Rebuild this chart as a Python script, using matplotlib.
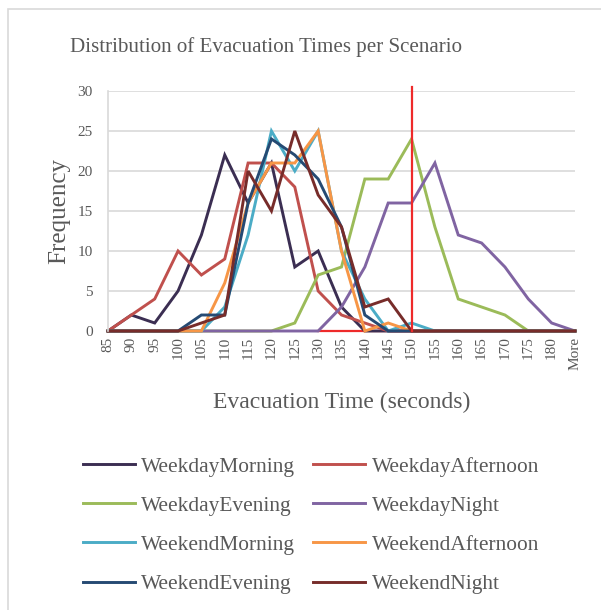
import matplotlib
matplotlib.use('Agg')
import matplotlib.pyplot as plt
from matplotlib.patches import Rectangle

plt.rcParams['font.family'] = ['Liberation Serif', 'DejaVu Serif']

# histogram bins (seconds) and counts per scenario
bins = ['85', '90', '95', '100', '105', '110', '115', '120', '125', '130', '135',
        '140', '145', '150', '155', '160', '165', '170', '175', '180', 'More']

weekday_morning   = [0, 2, 1, 5, 12, 22, 16, 21, 8, 10, 3, 0, 0, 0, 0, 0, 0, 0, 0, 0, 0]
weekday_afternoon = [0, 2, 4, 10, 7, 9, 21, 21, 18, 5, 2, 1, 0, 0, 0, 0, 0, 0, 0, 0, 0]
weekday_evening   = [0, 0, 0, 0, 0, 0, 0, 0, 1, 7, 8, 19, 19, 24, 13, 4, 3, 2, 0, 0, 0]
weekday_night     = [0, 0, 0, 0, 0, 0, 0, 0, 0, 0, 3, 8, 16, 16, 21, 12, 11, 8, 4, 1, 0]
weekend_morning   = [0, 0, 0, 0, 0, 3, 12, 25, 20, 25, 10, 4, 0, 1, 0, 0, 0, 0, 0, 0, 0]
weekend_afternoon = [0, 0, 0, 0, 0, 6, 16, 21, 21, 25, 10, 0, 1, 0, 0, 0, 0, 0, 0, 0, 0]
weekend_evening   = [0, 0, 0, 0, 2, 2, 16, 24, 22, 19, 13, 2, 0, 0, 0, 0, 0, 0, 0, 0, 0]
weekend_night     = [0, 0, 0, 0, 1, 2, 20, 15, 25, 17, 13, 3, 4, 0, 0, 0, 0, 0, 0, 0, 0]

series = [
    ('WeekdayMorning', weekday_morning, '#3B2E52'),
    ('WeekdayAfternoon', weekday_afternoon, '#C0504D'),
    ('WeekdayEvening', weekday_evening, '#9BBB59'),
    ('WeekdayNight', weekday_night, '#8064A2'),
    ('WeekendMorning', weekend_morning, '#4BACC6'),
    ('WeekendAfternoon', weekend_afternoon, '#F79646'),
    ('WeekendEvening', weekend_evening, '#254A73'),
    ('WeekendNight', weekend_night, '#772C2A'),
]

# marker line at the 150 s bin
cutoff = '150'
cutoff_from = '130'
cutoff_top = 30.5

grey = '#595959'

fig = plt.figure(figsize=(6.01, 6.10), dpi=100)
fig.patches.append(Rectangle((8 / 601, -0.01), 1.0, 1 - 9 / 610 + 0.01,
                             transform=fig.transFigure, fill=False,
                             edgecolor='#D9D9D9', linewidth=1.2))

ax = fig.add_axes([108 / 601, 1 - 331 / 610, 467 / 601, 240 / 610])
x = list(range(len(bins)))
ci = bins.index(cutoff)
fi = bins.index(cutoff_from)

ax.plot([fi, ci], [0, 0], color='#EE2A2A', lw=1.6, zorder=1.5, clip_on=False)
lines = []
for name, vals, col in series:
    ln, = ax.plot(x, vals, color=col, lw=2.1, label=name, zorder=2, clip_on=False,
                  solid_joinstyle='miter')
    lines.append(ln)
ax.plot([ci, ci], [0, cutoff_top], color='#EE2A2A', lw=1.6, zorder=3, clip_on=False)

ax.set_xlim(0, len(bins) - 1)
ax.set_ylim(0, 30)
ax.set_yticks(range(0, 31, 5))
ax.set_xticks(x)
ax.set_xticklabels(bins, rotation=90)
ax.tick_params(axis='both', length=0, labelsize=11, colors=grey)
ax.tick_params(axis='y', pad=11)
ax.tick_params(axis='x', pad=4)
ax.grid(axis='y', color='#D9D9D9', lw=1.2)
ax.set_axisbelow(True)
for s in ['top', 'right', 'bottom']:
    ax.spines[s].set_visible(False)
ax.spines['left'].set_color('#D9D9D9')
ax.spines['left'].set_linewidth(1.2)

ax.set_ylabel('Frequency', fontsize=18, color=grey, labelpad=5)
ax.set_xlabel('Evacuation Time (seconds)', fontsize=17, color=grey, labelpad=16)
fig.text(266 / 601, 1 - 47 / 610, 'Distribution of Evacuation Times per Scenario',
         ha='center', va='center', fontsize=15.1, color=grey)

# legend reads row by row: weekday/weekend pairs side by side
order = [0, 2, 4, 6, 1, 3, 5, 7]
leg = fig.legend([lines[i] for i in order], [series[i][0] for i in order],
                 loc='upper left', bbox_to_anchor=(74 / 601, 1 - 448 / 610), ncol=2,
                 frameon=False, fontsize=15.4, handlelength=2.45, handletextpad=0.3,
                 columnspacing=0.82, labelspacing=0.9, borderaxespad=0)
for t in leg.get_texts():
    t.set_color(grey)

fig.savefig('out.png', dpi=100)
